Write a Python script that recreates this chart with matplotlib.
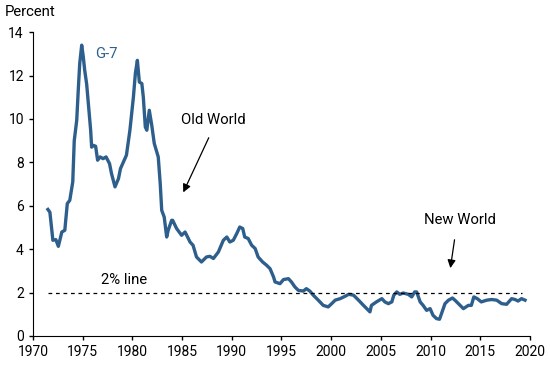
import matplotlib.pyplot as plt

plt.rcParams['font.family'] = ['Roboto', 'DejaVu Sans']

# G-7 inflation (percent)
years = [1971.5, 1971.7, 1972.0, 1972.3, 1972.55, 1972.9, 1973.2, 1973.45, 1973.7, 1974.0,
         1974.15, 1974.4, 1974.55, 1974.7, 1974.9, 1975.05, 1975.2, 1975.4, 1975.65, 1975.8,
         1975.9, 1976.1, 1976.3, 1976.5, 1976.75, 1977.05, 1977.35, 1977.7, 1977.9, 1978.25,
         1978.6, 1978.8, 1979.1, 1979.4, 1979.75, 1980.1, 1980.3, 1980.5, 1980.7, 1980.95,
         1981.1, 1981.3, 1981.45, 1981.7, 1981.95, 1982.2, 1982.45, 1982.6, 1982.8, 1982.95,
         1983.2, 1983.45, 1983.6, 1983.95, 1984.05, 1984.45, 1984.95, 1985.3, 1985.8, 1986.1,
         1986.45, 1986.95, 1987.45, 1987.8, 1988.15, 1988.65, 1989.15, 1989.5, 1989.8, 1990.15,
         1990.5, 1990.8, 1991.1, 1991.3, 1991.65, 1992.0, 1992.35, 1992.65, 1993.1, 1993.5,
         1993.85, 1994.2, 1994.35, 1994.85, 1995.2, 1995.7, 1996.0, 1996.35, 1996.7, 1997.2,
         1997.5, 1997.85, 1998.2, 1998.7, 1999.2, 1999.7, 2000.05, 2000.4, 2000.9, 2001.4,
         2001.75, 2002.25, 2002.75, 2003.25, 2003.75, 2003.9, 2004.05, 2004.55, 2005.1, 2005.4,
         2005.75, 2006.1, 2006.3, 2006.6, 2006.9, 2007.25, 2007.75, 2008.1, 2008.4, 2008.6,
         2008.95, 2009.25, 2009.6, 2009.95, 2010.25, 2010.6, 2010.9, 2011.1, 2011.45, 2011.8,
         2012.2, 2012.45, 2012.8, 2013.3, 2013.8, 2014.1, 2014.35, 2014.7, 2015.1, 2015.65,
         2016.15, 2016.65, 2017.15, 2017.65, 2018.15, 2018.5, 2018.8, 2019.15, 2019.5]
g7 = [5.83, 5.7, 4.41, 4.44, 4.13, 4.79, 4.87, 6.1, 6.25, 7.1,
      9.0, 9.94, 11.3, 12.55, 13.4, 12.9, 12.25, 11.6, 10.25, 9.48,
      8.7, 8.78, 8.74, 8.1, 8.25, 8.17, 8.25, 7.94, 7.48, 6.87,
      7.25, 7.71, 8.02, 8.33, 9.48, 11.0, 12.1, 12.7, 11.7, 11.63,
      11.0, 9.63, 9.48, 10.4, 9.7, 8.87, 8.48, 8.25, 7.02, 5.79,
      5.48, 4.56, 4.87, 5.33, 5.33, 4.95, 4.64, 4.79, 4.33, 4.18,
      3.64, 3.41, 3.64, 3.67, 3.57, 3.87, 4.41, 4.56, 4.33, 4.41,
      4.72, 5.02, 4.95, 4.56, 4.49, 4.18, 4.03, 3.64, 3.41, 3.26,
      3.1, 2.72, 2.49, 2.41, 2.6, 2.64, 2.49, 2.26, 2.1, 2.07,
      2.18, 2.07, 1.88, 1.65, 1.41, 1.34, 1.49, 1.65, 1.72, 1.83,
      1.92, 1.88, 1.65, 1.41, 1.18, 1.11, 1.41, 1.57, 1.72, 1.57,
      1.49, 1.57, 1.88, 2.03, 1.92, 1.98, 1.92, 1.8, 2.03, 2.03,
      1.57, 1.41, 1.18, 1.26, 0.95, 0.8, 0.77, 1.03, 1.49, 1.65,
      1.75, 1.65, 1.49, 1.26, 1.41, 1.41, 1.8, 1.72, 1.57, 1.65,
      1.68, 1.65, 1.49, 1.46, 1.72, 1.68, 1.61, 1.72, 1.65]

xticks = [1970, 1975, 1980, 1985, 1990, 1995, 2000, 2005, 2010, 2015, 2020]
yticks = [0, 2, 4, 6, 8, 10, 12, 14]

line_color = '#2e5f8c'
txt = 10.7

fig = plt.figure(figsize=(5.5, 3.65), dpi=100)
ax = fig.add_axes([0.06, 0.0795, 0.9036, 0.8325])

ax.plot(years, g7, color=line_color, linewidth=2.4)
ax.plot([1971.5, 2019.2], [2, 2], color='black', linestyle=(0, (3, 3)), linewidth=0.9)

ax.set_xlim(1970, 2020)
ax.set_ylim(0, 14)
ax.set_xticks(xticks)
ax.set_yticks(yticks)
ax.tick_params(labelsize=10, length=3, width=1, color='black')
for s in ['top', 'right']:
    ax.spines[s].set_visible(False)

ax.text(1976.3, 13.0, 'G-7', color=line_color, fontsize=txt, ha='left', va='center')
ax.text(1976.85, 2.56, '2% line', fontsize=txt, ha='left', va='center')
ax.text(1984.9, 9.95, 'Old World', fontsize=txt, ha='left', va='center')
ax.annotate('', xy=(1985.0, 6.5), xytext=(1987.8, 9.25),
            arrowprops=dict(arrowstyle='-|>', color='black', lw=0.9, mutation_scale=12))
ax.text(2009.3, 5.33, 'New World', fontsize=txt, ha='left', va='center')
ax.annotate('', xy=(2011.95, 3.0), xytext=(2012.45, 4.56),
            arrowprops=dict(arrowstyle='-|>', color='black', lw=0.9, mutation_scale=12))

fig.text(0.008, 0.967, 'Percent', fontsize=txt, ha='left', va='center')

fig.savefig('out.png', dpi=100)
